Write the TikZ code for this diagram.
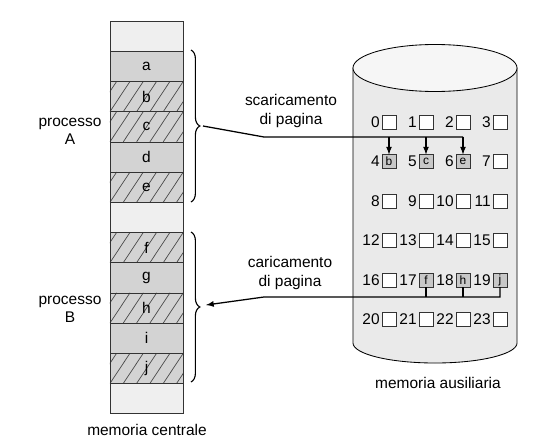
\documentclass[tikz,border=0pt]{standalone}
\usepackage{fontspec}
\setmainfont{Liberation Sans}
\usetikzlibrary{decorations.pathreplacing}
\definecolor{myframe}{HTML}{333333}
\definecolor{myfree}{HTML}{EFEFEF}
\definecolor{mypage}{HTML}{D3D3D3}
\definecolor{mydisk}{HTML}{EAEAEA}
\definecolor{mydisktop}{HTML}{F6F6F6}
\definecolor{myslot}{HTML}{C8C8C8}
\definecolor{myhatch}{HTML}{4A4A4A}

\begin{document}
\begin{tikzpicture}[x=0.025cm,y=-0.025cm,font=\fontsize{11}{13}\selectfont]
			\tikzset{% This is the style settings for nodes
				freenode/.style={rectangle,draw=myframe,fill=myfree,minimum width=1.825cm,minimum height=0.755cm,inner sep=0pt,outer sep=0pt},
				pagenode/.style={freenode,fill=mypage},
				swapnode/.style={pagenode,path picture={\foreach \k in {-2,...,6} \draw[myhatch,line width=0.5pt]([xshift=\k*0.333cm]path picture bounding box.south west) -- ++(0.5cm,0.755cm);}},
				slotnode/.style={rectangle,draw=myframe,fill=white,minimum size=0.35cm,inner sep=0pt,outer sep=0pt,font=\fontsize{8.5}{10}\selectfont},
				fullslotnode/.style={slotnode,fill=myslot},
				bracenode/.style={decorate,decoration={brace,amplitude=0.22cm},thick},
				link/.style={line width=0.9pt}}
			\useasboundingbox (0,0) rectangle (542,448);

			% memoria ausiliaria
			\draw[fill=mydisk,line width=0.6pt] (353,68) -- (353,343) arc[start angle=180,end angle=360,x radius=2.05cm,y radius=0.5cm] -- (517,68) -- cycle;
			\draw[fill=mydisktop,line width=0.6pt] (435,68) ellipse[x radius=2.05cm,y radius=0.5875cm];

			% memoria centrale
			\node[freenode] (m0) at (146.5,36.1) {};
			\node[pagenode] (m1) at (146.5,66.3) {a};
			\node[swapnode] (m2) at (146.5,96.5) {b};
			\node[swapnode] (m3) at (146.5,126.7) {c};
			\node[pagenode] (m4) at (146.5,156.9) {d};
			\node[swapnode] (m5) at (146.5,187.1) {e};
			\node[freenode] (m6) at (146.5,217.3) {};
			\node[swapnode] (m7) at (146.5,247.5) {f};
			\node[pagenode] (m8) at (146.5,277.7) {g};
			\node[swapnode] (m9) at (146.5,307.9) {h};
			\node[pagenode] (m10) at (146.5,338.1) {i};
			\node[swapnode] (m11) at (146.5,368.3) {j};
			\node[freenode] (m12) at (146.5,398.5) {};

			\node[align=center] (procA) at (70,131) {processo\\A};
			\node[align=center] (procB) at (70,309) {processo\\B};
			\node (centrale) at (147,430) {memoria centrale};
			\node (ausiliaria) at (438,383) {memoria ausiliaria};
			\node[align=center] (scar) at (291,111) {scaricamento\\di pagina};
			\node[align=center] (car) at (290,273) {caricamento\\di pagina};

			\draw[bracenode] (191,50) -- (191,202);
			\draw[bracenode] (191,232) -- (191,382);

			% blocchi su disco
			\foreach \r in {0,...,5}
				\foreach \c in {0,...,3}{
					\pgfmathtruncatemacro{\n}{4*\r+\c}
					\node[slotnode] (s\n) at ({389+37*\c},{122+39.5*\r}) {};
					\node[anchor=east,inner sep=1.5pt] (n\n) at (s\n.west) {\n};
				}
			\foreach \n/\t in {4/b,5/c,6/e,17/f,18/h,19/j}
				\node[fullslotnode] at (s\n) {\t};

			\coordinate (tipA) at (203,126);
			\coordinate (bendA) at (264,137);
			\coordinate (tipB) at (206,305);
			\coordinate (bendB) at (264,297);

			\draw[link] (tipA) -- (bendA) -- (bendA -| s6.north);
			\foreach \n in {4,5,6}
				\draw[link,-latex] (bendA -| s\n.north) -- (s\n.north);
			\draw[link,-latex] (s19.south) |- (bendB) -- (tipB);
			\foreach \n in {17,18}
				\draw[link] (s\n.south) -- (s\n.south |- bendB);
		\end{tikzpicture}
\end{document}
